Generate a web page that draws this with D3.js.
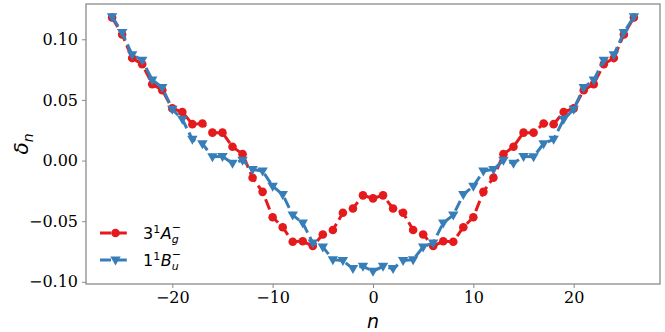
<!DOCTYPE html>
<html>
<head>
<meta charset="utf-8">
<script src="https://cdn.jsdelivr.net/npm/d3@7"></script>
<style>
  body { margin: 0; background: #fff; }
  svg { display: block; }
</style>
</head>
<body>
<div id="chart"></div>
<script>
// site index n
var nVals = d3.range(-26, 27);

// 3^1A_g^- (red circles)
var agVals = [
  0.118, 0.104, 0.0845, 0.0795, 0.063, 0.058, 0.043, 0.040, 0.030, 0.0305,
  0.023, 0.023, 0.0114, 0.0053, -0.0142, -0.0258, -0.0467, -0.055, -0.067, -0.0665,
  -0.0705, -0.061, -0.0573, -0.0431, -0.0395, -0.0287, -0.0312,
  -0.0287, -0.0395, -0.0431, -0.0573, -0.061, -0.0705, -0.0665, -0.067, -0.055,
  -0.0467, -0.0258, -0.0142, 0.0053, 0.0114, 0.023, 0.023, 0.0305, 0.030, 0.040,
  0.043, 0.058, 0.063, 0.0795, 0.0845, 0.104, 0.118
];

// 1^1B_u^- (blue triangles)
var buVals = [
  0.1186, 0.1056, 0.0872, 0.0828, 0.0665, 0.0602, 0.0423, 0.034, 0.0175, 0.0139,
  0.0031, 0.0033, -0.0023, 0.0002, -0.0073, -0.0087, -0.0211, -0.028, -0.045, -0.0514,
  -0.0679, -0.0712, -0.0817, -0.0825, -0.0891, -0.0872, -0.0913,
  -0.0872, -0.0891, -0.0825, -0.0817, -0.0712, -0.0679, -0.0514, -0.045, -0.028,
  -0.0211, -0.0087, -0.0073, 0.0002, -0.0023, 0.0033, 0.0031, 0.0139, 0.0175, 0.034,
  0.0423, 0.0602, 0.0665, 0.0828, 0.0872, 0.1056, 0.1186
];

var xTicks = [-20, -10, 0, 10, 20];
var yTicks = [-0.10, -0.05, 0.00, 0.05, 0.10];

var width = 665, height = 332;
var margin = {top: 4, right: 5, bottom: 48, left: 86};

var svg = d3.select("#chart").append("svg")
    .attr("width", width)
    .attr("height", height);

// matplotlib-ish 5% margins
var xExt = d3.extent(nVals), xPad = (xExt[1] - xExt[0]) * 0.05;
var yExt = d3.extent(agVals.concat(buVals)), yPad = (yExt[1] - yExt[0]) * 0.05;

var x = d3.scaleLinear()
    .domain([xExt[0] - xPad, xExt[1] + xPad])
    .range([margin.left, width - margin.right]);
var y = d3.scaleLinear()
    .domain([yExt[0] - yPad, yExt[1] + yPad])
    .range([height - margin.bottom, margin.top]);

var frameCol = "#8a8a8a";

// axes
var xAxis = svg.append("g")
    .attr("transform", "translate(0," + (height - margin.bottom) + ")")
    .call(d3.axisBottom(x).tickValues(xTicks).tickSize(4).tickPadding(4).tickFormat(d3.format("d")));
var yAxis = svg.append("g")
    .attr("transform", "translate(" + margin.left + ",0)")
    .call(d3.axisLeft(y).tickValues(yTicks).tickSize(4).tickPadding(4).tickFormat(d3.format(".2f")));

[xAxis, yAxis].forEach(function(g) {
  g.select(".domain").remove();
  g.selectAll(".tick line").attr("stroke", frameCol).attr("stroke-width", 1);
  g.selectAll(".tick text")
    .attr("fill", "#000")
    .style("font-family", "'DejaVu Serif', serif")
    .style("font-size", "16px");
});

// frame
svg.append("rect")
    .attr("x", margin.left)
    .attr("y", margin.top)
    .attr("width", width - margin.right - margin.left)
    .attr("height", height - margin.bottom - margin.top)
    .attr("fill", "none")
    .attr("stroke", frameCol)
    .attr("stroke-width", 1.3);

var series = [
  {vals: agVals, color: "#e41a1c", marker: "circle"},
  {vals: buVals, color: "#377eb8", marker: "tri"}
];

var line = d3.line()
    .x(function(d) { return x(d[0]); })
    .y(function(d) { return y(d[1]); });

var triPath = "M0,5 L-5.2,-4 L5.2,-4 Z";

function drawMarker(g, cx, cy, s) {
  if (s.marker === "circle") {
    g.append("circle").attr("cx", cx).attr("cy", cy).attr("r", 4.3).attr("fill", s.color);
  } else {
    g.append("path").attr("d", triPath)
      .attr("transform", "translate(" + cx + "," + (cy + 0.5) + ")")
      .attr("fill", s.color);
  }
}

series.forEach(function(s) {
  var pts = nVals.map(function(n, i) { return [n, s.vals[i]]; });
  var g = svg.append("g");
  g.append("path")
    .attr("d", line(pts))
    .attr("fill", "none")
    .attr("stroke", s.color)
    .attr("stroke-width", 3)
    .attr("stroke-dasharray", "11,4.8");
  pts.forEach(function(p) { drawMarker(g, x(p[0]), y(p[1]), s); });
});

// legend
var legendRows = [
  {s: series[0], big: "3", sup1: "1", base: "A", sub: "g", y: 233},
  {s: series[1], big: "1", sup1: "1", base: "B", sub: "u", y: 260}
];
legendRows.forEach(function(r) {
  var g = svg.append("g");
  g.append("line")
    .attr("x1", 100).attr("x2", 131).attr("y1", r.y).attr("y2", r.y)
    .attr("stroke", r.s.color).attr("stroke-width", 3)
    .attr("stroke-dasharray", "11,4.8");
  drawMarker(g, 115.5, r.y, r.s);

  var fs = 16, base = r.y + 6;
  var t = g.append("text").attr("y", base)
    .style("font-family", "'DejaVu Sans', sans-serif").style("font-size", fs + "px");
  var x0 = 143;
  var a = t.append("tspan").attr("x", x0).text(r.big);
  var w = a.node().getComputedTextLength();
  var b = t.append("tspan").attr("x", x0 + w).attr("y", base - 6).style("font-size", "11px").text(r.sup1);
  w += b.node().getComputedTextLength();
  var c = t.append("tspan").attr("x", x0 + w + 0.5).attr("y", base).style("font-style", "italic").text(r.base);
  w += c.node().getComputedTextLength() + 0.5;
  t.append("tspan").attr("x", x0 + w).attr("y", base + 4).style("font-size", "11px").style("font-style", "italic").text(r.sub);
  t.append("tspan").attr("x", x0 + w).attr("y", base - 8).style("font-size", "11px").text("\u2212");
});

// axis labels
svg.append("text")
    .attr("x", x(0)).attr("y", 328)
    .attr("text-anchor", "middle")
    .style("font-family", "'DejaVu Sans', sans-serif")
    .style("font-size", "19px").style("font-style", "italic")
    .text("n");

var yl = svg.append("text")
    .attr("transform", "translate(28," + ((margin.top + height - margin.bottom) / 2) + ") rotate(-90)")
    .attr("text-anchor", "middle")
    .style("font-family", "'DejaVu Sans', sans-serif")
    .style("font-size", "20px").style("font-style", "italic");
yl.append("tspan").text("\u03b4");
yl.append("tspan").attr("dy", 5).style("font-size", "14px").text("n");
</script>
</body>
</html>
